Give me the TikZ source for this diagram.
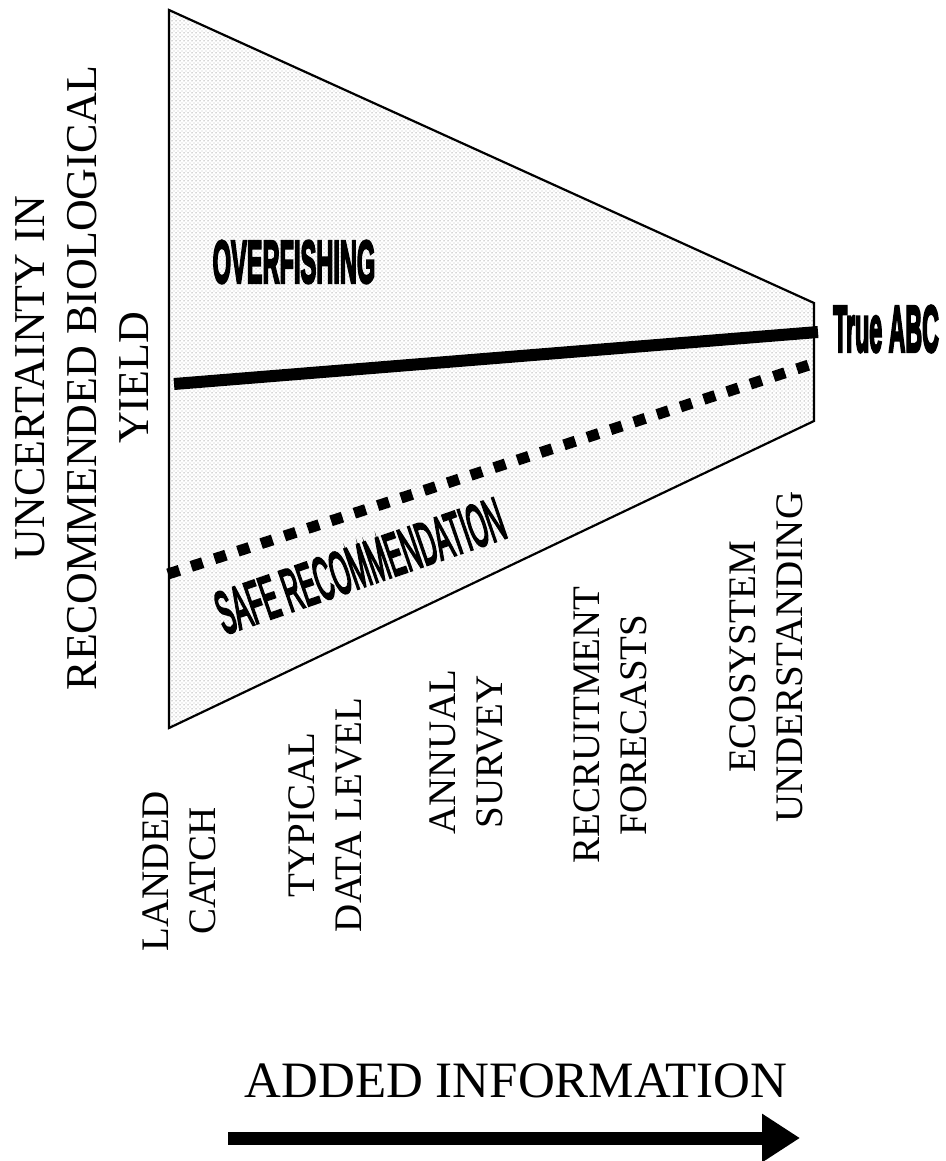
\documentclass[tikz,border=0pt]{standalone}
\usepackage{fontspec}
\usepackage{graphicx}
\setmainfont{Liberation Serif}
\newfontface\heavysans{Liberation Sans Bold}[FakeBold=5]
\newfontface\mediumsans{Liberation Sans}[FakeBold=5]
\usetikzlibrary{patterns,arrows.meta}

% fine stipple used to shade the uncertainty wedge
\pgfdeclarepatternformonly{stipple}{\pgfqpoint{-1pt}{-1pt}}{\pgfqpoint{3pt}{3pt}}{\pgfqpoint{4pt}{4pt}}{%
  \pgfpathcircle{\pgfqpoint{0pt}{0pt}}{0.5pt}%
  \pgfpathcircle{\pgfqpoint{2pt}{2pt}}{0.45pt}%
  \pgfusepath{fill}}

% narrow, tall sans labels: size, x-scale, y-scale, text
\newcommand{\narrowlabel}[4]{\scalebox{#2}[#3]{\fontsize{#1}{#1}\heavysans #4}}
\newcommand{\narrowlight}[4]{\scalebox{#2}[#3]{\fontsize{#1}{#1}\mediumsans #4}}

\tikzset{
  wedge/.style={draw=black, line width=2.2pt, line join=miter, pattern=stipple, pattern color=black!70},
  trueline/.style={line width=12pt, line cap=butt},
  safeline/.style={line width=11pt, dash pattern=on 12pt off 12.5pt},
  axislabel/.style={rotate=90, align=center, inner sep=0pt, font=\fontsize{44}{52}\selectfont},
  infolabel/.style={rotate=90, align=center, inner sep=0pt, font=\fontsize{39}{47}\selectfont},
  arrowlabel/.style={inner sep=0pt, anchor=base, font=\fontsize{51}{60}\selectfont},
  bigarrow/.style={line width=13pt, -{Triangle[length=38pt, width=46pt]}},
}

\begin{document}
\begin{tikzpicture}[x=1pt, y=-1pt]
  \useasboundingbox (0,0) rectangle (945,1161);

  % uncertainty wedge
  \coordinate (tl) at (169,10);
  \coordinate (tr) at (814,303);
  \coordinate (br) at (814,421);
  \coordinate (bl) at (169,728);
  \draw[wedge] (tl) -- (tr) -- (br) -- (bl) -- cycle;

  % true ABC and safe recommendation lines
  \coordinate (ta) at (174,384);
  \coordinate (tb) at (818,332);
  \draw[trueline] (ta) -- (tb);
  \coordinate (sa) at (168,574);
  \coordinate (sb) at (812,364);
  \draw[safeline] (sa) -- (sb);

  \node[anchor=west, inner sep=0pt] (abc) at (833,329) {\narrowlabel{40}{0.58}{1.64}{True ABC}};
  \node[inner sep=0pt] (over) at (294,262) {\narrowlabel{40}{0.59}{1.5}{OVERFISHING}};
  \node[inner sep=0pt, rotate=19] (safe) at (360,566) {\narrowlight{40}{0.6}{1.5}{SAFE RECOMMENDATION}};

  % vertical axis title
  \node[axislabel] (ylab) at (82,378) {UNCERTAINTY IN\\RECOMMENDED BIOLOGICAL\\YIELD};

  % levels of information
  \node[infolabel] (landed) at (179,871) {LANDED\\CATCH};
  \node[infolabel] (typical) at (325,815) {TYPICAL\\DATA LEVEL};
  \node[infolabel] (annual) at (466,752) {ANNUAL\\SURVEY};
  \node[infolabel] (recruit) at (610,725) {RECRUITMENT\\FORECASTS};
  \node[infolabel] (eco) at (766,657) {ECOSYSTEM\\UNDERSTANDING};

  % horizontal axis title and arrow
  \node[arrowlabel] (added) at (516,1097) {ADDED INFORMATION};
  \coordinate (as) at (228,1138);
  \coordinate (ae) at (800,1138);
  \draw[bigarrow] (as) -- (ae);
\end{tikzpicture}
\end{document}
